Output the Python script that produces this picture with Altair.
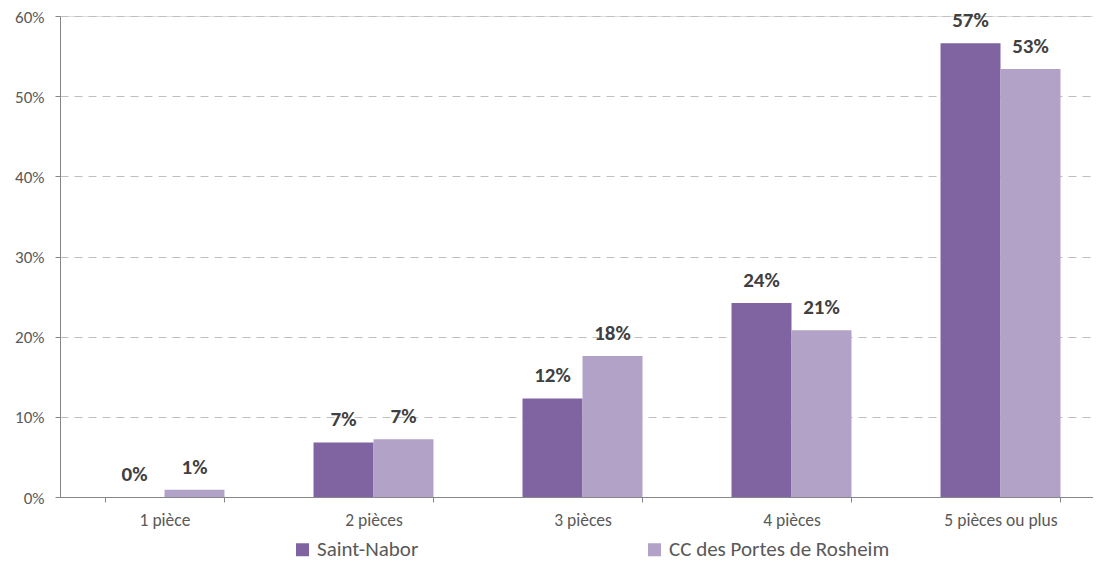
import altair as alt
import pandas as pd

categories = ["1 pièce", "2 pièces", "3 pièces", "4 pièces", "5 pièces ou plus"]
series = ["Saint-Nabor", "CC des Portes de Rosheim"]
saint_nabor = [0.0, 6.8, 12.3, 24.2, 56.6]
cc_portes = [0.9, 7.2, 17.6, 20.8, 53.4]
colors = ["#8064A2", "#B2A2C7"]

rows = []
for c, a, b in zip(categories, saint_nabor, cc_portes):
    rows.append({"cat": c, "series": series[0], "value": a / 100})
    rows.append({"cat": c, "series": series[1], "value": b / 100})
df = pd.DataFrame(rows)

FONT = "Carlito, Calibri, Lato, sans-serif"

x = alt.X(
    "cat:N",
    sort=categories,
    title=None,
    scale=alt.Scale(paddingInner=0.426, paddingOuter=0.213, range=[0, 1045]),
    axis=alt.Axis(
        labelAngle=0,
        tickBand="extent",
        tickSize=5,
        tickColor="#868686",
        domainColor="#868686",
        labelColor="#595959",
        labelFontSize=17.5,
        labelFont=FONT,
        labelPadding=9,
        grid=False,
    ),
)
xoff = alt.XOffset("series:N", sort=series, scale=alt.Scale(paddingInner=0, paddingOuter=0))
y = alt.Y(
    "value:Q",
    title=None,
    scale=alt.Scale(domain=[0, 0.6], nice=False),
    axis=alt.Axis(
        format=".0%",
        values=[0, 0.1, 0.2, 0.3, 0.4, 0.5, 0.6],
        tickSize=5,
        tickColor="#868686",
        domainColor="#868686",
        labelColor="#595959",
        labelFontSize=17,
        labelFont=FONT,
        labelPadding=11,
        labelOffset=1,
        grid=True,
        gridColor="#BFBFBF",
        gridDash=[8, 6],
        gridWidth=1,
    ),
)

bars = alt.Chart(df).mark_bar().encode(
    x=x,
    xOffset=xoff,
    y=y,
    color=alt.Color(
        "series:N",
        sort=series,
        scale=alt.Scale(domain=series, range=colors),
        legend=alt.Legend(
            title=None,
            orient="none",
            direction="horizontal",
            legendX=232,
            legendY=523,
            symbolType="square",
            symbolSize=169,
            symbolStrokeWidth=0,
            labelFontSize=21,
            labelFont=FONT,
            labelColor="#595959",
            labelOffset=4,
            columnPadding=225,
            labelLimit=500,
        ),
    ),
)

labels = alt.Chart(df).mark_text(
    font=FONT, fontSize=21, fontWeight="bold", color="#404040",
    baseline="alphabetic", dy=-16,
).encode(
    x=x,
    xOffset=xoff,
    y=y,
    text=alt.Text("value:Q", format=".0%"),
)

chart = alt.layer(bars, labels).properties(
    width=1033,
    height=481,
    autosize=alt.AutoSizeParams(type="none"),
    padding={"left": 52, "top": 8, "right": 0, "bottom": 65},
).configure_view(stroke=None).configure(background="white")

chart.save("out.html", embed_options={"renderer": "svg", "actions": False})
